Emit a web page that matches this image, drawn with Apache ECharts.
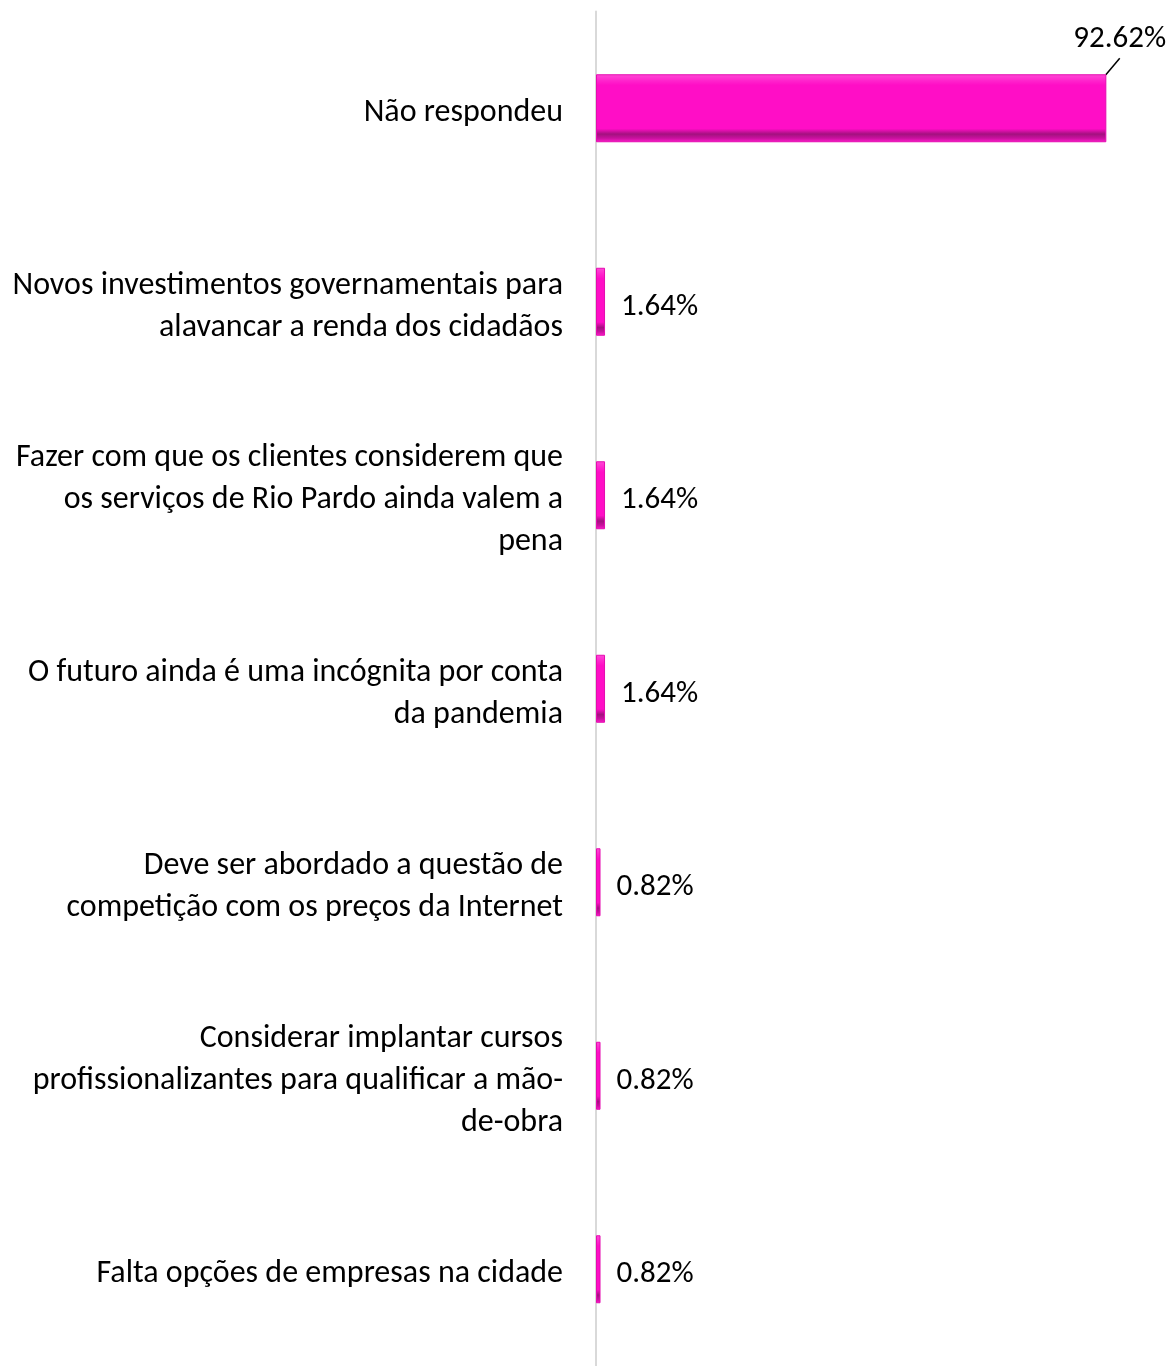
<!DOCTYPE html>
<html>
<head>
<meta charset="utf-8">
<script src="https://cdn.jsdelivr.net/npm/echarts@6/dist/echarts.min.js"></script>
<style>html,body{margin:0;padding:0;background:#fff}#c{width:1169px;height:1366px}</style>
</head>
<body>
<div id="c"></div>
<script>
const categories = [
  "Não respondeu",
  "Novos investimentos governamentais para\nalavancar a renda dos cidadãos",
  "Fazer com que os clientes considerem que\nos serviços de Rio Pardo ainda valem a\npena",
  "O futuro ainda é uma incógnita por conta\nda pandemia",
  "Deve ser abordado a questão de\ncompetição com os preços da Internet",
  "Considerar implantar cursos\nprofissionalizantes para qualificar a mão-\nde-obra",
  "Falta opções de empresas na cidade"
];
const values = [92.62, 1.64, 1.64, 1.64, 0.82, 0.82, 0.82];

const FONT = "Carlito, Lato, 'Open Sans', sans-serif";
const spacer = { s: { fontSize: 1, lineHeight: 10 } };
const chart = echarts.init(document.getElementById('c'));
chart.setOption({
  animation: false,
  grid: { left: 596, right: 22, top: 11.5, bottom: -10.5, containLabel: false },
  xAxis: { type: 'value', min: 0, max: 100, show: false },
  yAxis: {
    type: 'category', data: categories, inverse: true,
    axisLine: { show: true, lineStyle: { color: '#d9d9d9', width: 2 } },
    axisTick: { show: false },
    axisLabel: {
      color: '#000', fontFamily: FONT, fontSize: 32, lineHeight: 42, margin: 33, align: 'right',
      formatter: v => '{s| }\n' + v,
      rich: spacer
    }
  },
  series: [{
    type: 'bar',
    data: values.map((v, i) => i === 0 ? { value: v, labelLine: { show: true } } : { value: v }),
    barWidth: 68,
    itemStyle: {
      color: new echarts.graphic.LinearGradient(0, 0, 0, 1, [
        { offset: 0, color: '#ff4ad6' },
        { offset: 0.1, color: '#ff22cc' },
        { offset: 0.16, color: '#ff0ec6' },
        { offset: 0.8, color: '#ff0ec6' },
        { offset: 0.88, color: '#a3117f' },
        { offset: 0.94, color: '#c8109e' },
        { offset: 1, color: '#ff1ccb' }
      ]),
      borderColor: '#e40cb0', borderWidth: 1
    },
    label: {
      show: true, position: 'right', distance: 16,
      color: '#000', fontFamily: FONT, fontSize: 31, lineHeight: 38,
      formatter: p => '{s| }\n' + p.value.toFixed(2) + '%',
      rich: spacer
    },
    labelLine: { show: false, lineStyle: { color: '#000', width: 1.5 } },
    labelLayout: function (p) {
      if (p.dataIndex === 0) return { dx: -49, dy: -74 };
      return {};
    }
  }]
});
</script>
</body>
</html>
